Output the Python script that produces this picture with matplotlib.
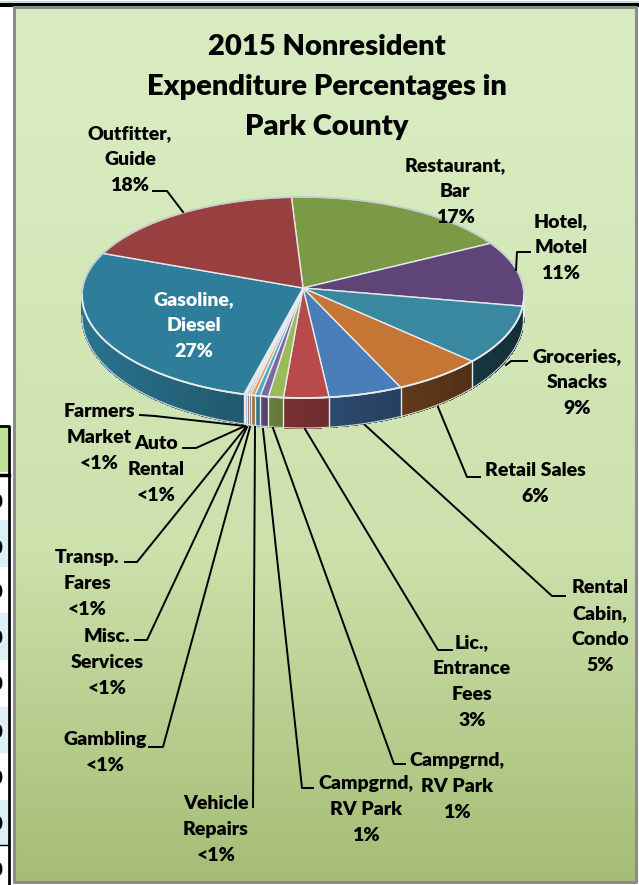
import numpy as np
import matplotlib.pyplot as plt
from matplotlib.colors import LinearSegmentedColormap, to_rgb

plt.rcParams['font.family'] = ['Lato', 'DejaVu Sans']

# Slices clockwise, starting at the Restaurant/Outfitter edge
names = ["Restaurant,\nBar\n17%", "Hotel,\nMotel\n11%", "Groceries,\nSnacks\n9%",
         "Retail Sales\n6%", "Rental\nCabin,\nCondo\n5%", "Lic.,\nEntrance\nFees\n3%",
         "Campgrnd,\nRV Park\n1%", "Campgrnd,\nRV Park\n1%", "Vehicle\nRepairs\n<1%",
         "Gambling\n<1%", "Misc.\nServices\n<1%", "Transp.\nFares\n<1%",
         "Auto\nRental\n<1%", "Farmers\nMarket\n<1%", "Gasoline,\nDiesel\n27%",
         "Outfitter,\nGuide\n18%"]
values = [17.0, 10.6, 9.4, 6.6, 5.4, 3.3, 1.1, 0.6, 0.4, 0.3, 0.15, 0.15, 0.1, 0.1, 27.7, 17.2]
colors = ["#7A9A45", "#5F4577", "#3A87A0", "#C57534", "#4A7EBB", "#B84A4C",
          "#9BBB59", "#8064A2", "#4BACC6", "#F79646", "#4F81BD", "#C0504D",
          "#DCE6F1", "#F2F2F2", "#2E7D9A", "#984040"]
title = "2015 Nonresident\nExpenditure Percentages in\nPark County"

# Layout, all in picture pixels
label_pos = [(455, 190), (561, 246), (577, 381), (535, 482), (600, 625), (472, 680),
             (457, 785), (366, 808), (216, 828), (105, 751), (107, 661), (87, 582),
             (156, 468), (99, 436), (194, 324), (130, 158)]
leaders = [None,
           [(530, 252), (517, 252), (516, 270)],
           [(527, 361), (511, 361), (506, 365)],
           [(480, 477), (467, 477), (438, 407)],
           [(565, 596), (552, 596), (365, 425)],
           [(452, 650), (438, 650), (305, 429)],
           [(405, 764), (394, 764), (273, 428)],
           [(313, 788), (302, 788), (263, 429)],
           [(253, 807), (255, 427)],
           [(149, 747), (163, 747), (250, 427)],
           [(135, 640), (147, 640), (247, 427)],
           [(125, 562), (137, 562), (246, 427)],
           [(183, 448), (196, 448), (245, 426)],
           [(140, 415), (155, 416), (245, 426)],
           None,
           [(153, 191), (167, 191), (183, 212)]]
cx, cy, a = 303, 295, 221
apex = (303, 288)
start = -3.0

def top_xy(t):
    t = np.radians(t)
    b = np.where(np.cos(t) > 0, 98, 103)
    return cx + a * np.sin(t), cy - b * np.cos(t)

def bottom_xy(t):
    t = np.radians(t)
    return cx + a * np.sin(t), 316 - 112 * np.cos(t)

def put_lines(x, y, text, pitch, drop, **kw):
    # one text per line, the line pitch of the original is wider than matplotlib's steps
    lines = text.split("\n")
    for k, line in enumerate(lines):
        ax.text(x, y + (k - (len(lines) - 1) / 2) * pitch + drop, line, ha='center', va='baseline', **kw)

fig = plt.figure(figsize=(6.39, 8.85), dpi=100)
ax = fig.add_axes([0, 0, 1, 1])
ax.set_xlim(0, 639)
ax.set_ylim(885, 0)
ax.axis('off')

# Bits of the page around the chart
ax.fill_between([0, 639], 1, 2.5, color='#BFDDE3', lw=0)
ax.fill_between([0, 639], 3, 6.5, color='black', lw=0)
ax.fill_between([0, 8], 428, 472, color='#BEE395', lw=0)
for y0, y1 in [(520, 567), (613, 660), (707, 753), (800, 845)]:
    ax.fill_between([0, 8], y0, y1, color='#DCEEF6', lw=0)
ax.plot([0, 9, 9], [426, 426, 885], color='black', lw=2)
ax.plot([0, 9], [474.5, 474.5], color='black', lw=2.5)
ax.plot([0, 9], [845, 845], color='black', lw=1)
for y in [502, 548, 592, 638, 685, 732, 778, 825, 870]:
    ax.text(3, y, "0", ha='right', va='center', fontsize=13.5, fontweight='black', clip_on=True)

# Panel with its gradient
cmap = LinearSegmentedColormap.from_list('panel', [(0, '#D8EBC0'), (0.15, '#D8EBC0'), (0.62, '#CCE1AC'), (1, '#A5BD75')])
ax.imshow(np.linspace(0, 1, 256).reshape(-1, 1), extent=(14, 636, 882, 7), aspect='auto', cmap=cmap, zorder=1)
ax.set_xlim(0, 639)
ax.set_ylim(885, 0)
ax.plot([14, 14, 636, 636, 14], [7, 882, 882, 7, 7], color='#8C8C8C', lw=2.2, zorder=2)

# Pie
edges = start + np.cumsum([0] + values) * 360.0 / sum(values)

for i in range(len(values)):
    t0, t1 = edges[i], edges[i + 1]
    # side wall, only the front part shows
    w0, w1 = max(t0, 90), min(t1, 270)
    if w1 > w0:
        steps = np.linspace(w0, w1, max(int(w1 - w0), 1) + 1)
        for s0, s1 in zip(steps[:-1], steps[1:]):
            ts = np.array([s0, s1])
            xt, yt = top_xy(ts)
            xb, yb = bottom_xy(ts)
            shade = 0.63 - 0.29 * np.sin(np.radians((s0 + s1) / 2))
            c = np.array(to_rgb(colors[i])) * shade
            ax.fill([xt[0], xt[1], xb[1], xb[0]], [yt[0], yt[1], yb[1], yb[0]], color=c, lw=0.6,
                    antialiased=False, zorder=3)
        xe, ye = top_xy(np.array([w0]))
        xf, yf = bottom_xy(np.array([w0]))
        ax.plot([xe[0], xf[0]], [ye[0], yf[0]], color='#E6ECF0', lw=1.0, zorder=3.5)
    # top face
    ts = np.linspace(t0, t1, max(int(t1 - t0) * 2, 2) + 1)
    xs, ys = top_xy(ts)
    ax.fill(np.r_[apex[0], xs], np.r_[apex[1], ys], facecolor=colors[i],
            edgecolor='#E4EAEE', lw=1.0, zorder=4)

# Rim
ts = np.linspace(0, 360, 400)
xs, ys = top_xy(ts)
ax.plot(xs, ys, color='#C4CCCC', lw=1.3, zorder=5)
ts = np.linspace(90, 270, 200)
xs, ys = top_xy(ts)
ax.plot(xs, ys, color='#E8EEF0', lw=1.1, zorder=5)
xs, ys = bottom_xy(ts)
ax.plot(xs, ys, color='#D0D8D8', lw=0.8, zorder=5)

# Leader lines and labels
for name, pos, line in zip(names, label_pos, leaders):
    if line is not None:
        ax.plot([p[0] for p in line], [p[1] for p in line], color='black', lw=1.4, zorder=6)
    white = name.startswith("Gasoline")
    put_lines(pos[0], pos[1], name, 26, 7, fontsize=14.0, fontweight='heavy',
              color='white' if white else 'black', zorder=7)

put_lines(327, 85, title, 40, 10, fontsize=21.0, fontweight='heavy', zorder=7)

fig.savefig('out.png', dpi=100)
